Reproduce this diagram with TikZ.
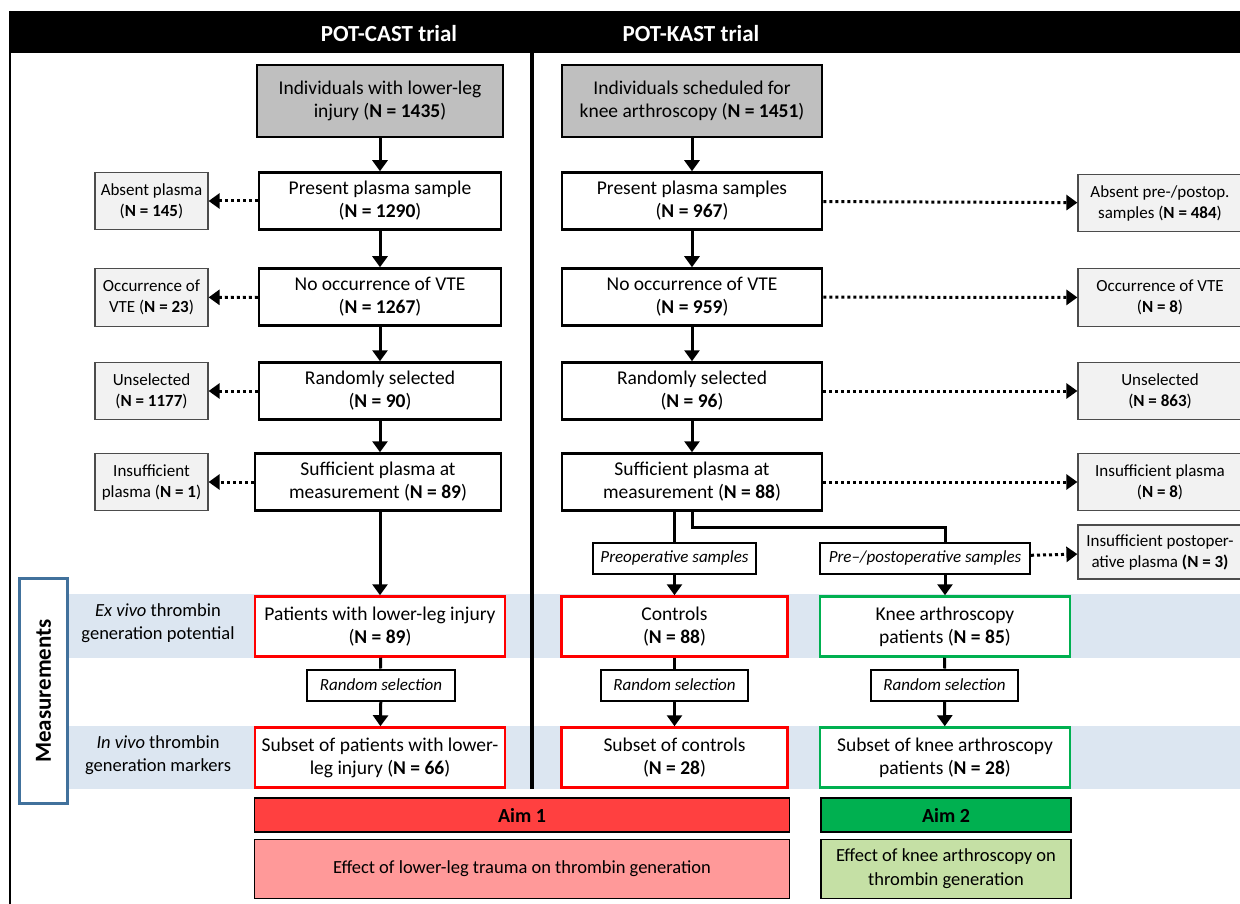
\documentclass[tikz,border=0pt]{standalone}
\usepackage{fontspec}
\setmainfont{Carlito}
\usetikzlibrary{arrows.meta}

\definecolor{boxgray}{HTML}{BFBFBF}
\definecolor{exgray}{HTML}{F2F2F2}
\definecolor{bandblue}{HTML}{DCE6F1}
\definecolor{measblue}{HTML}{41719C}
\definecolor{aimred}{HTML}{FF4040}
\definecolor{aimgreen}{HTML}{00B050}
\definecolor{effred}{HTML}{FF9999}
\definecolor{effgreen}{HTML}{C5E0A5}
\definecolor{boxred}{HTML}{FF0000}
\definecolor{boxgreen}{HTML}{00B050}

\newcommand{\nn}[1]{(\textbf{N = #1})}

\tikzset{
  base/.style={draw, align=center, inner sep=2pt, font=\fontsize{19.5}{23}\selectfont},
  mainbox/.style={base, line width=2.5pt, fill=white, minimum height=57pt},
  startbox/.style={mainbox, fill=boxgray, minimum height=72pt},
  exbox/.style={base, line width=1.2pt, draw=black!70, fill=exgray, minimum height=57pt, font=\fontsize{17}{21}\selectfont},
  redbox/.style={mainbox, draw=boxred, minimum height=60pt},
  greenbox/.style={mainbox, draw=boxgreen, minimum height=60pt},
  tagbox/.style={base, line width=2pt, fill=white, minimum height=31pt, font=\fontsize{17}{20}\selectfont\itshape},
  aimbox/.style={draw, line width=1.5pt, minimum height=34pt, font=\fontsize{20}{24}\selectfont\bfseries},
  effbox/.style={draw, line width=1.5pt, align=center, minimum height=59pt, font=\fontsize{18.5}{24}\selectfont},
  conn/.style={line width=3pt},
  arr/.style={conn, -{Triangle[length=11pt,width=15pt]}},
  dotarr/.style={line width=3pt, dash pattern=on 3pt off 3pt, -{Triangle[length=11pt,width=15pt]}},
}

\begin{document}
\begin{tikzpicture}[x=1pt, y=-1pt]

    \useasboundingbox (0,0) rectangle (1240,904);

    % Background bands and frame
    \fill[bandblue] (68,594) rectangle (1240,658);
    \fill[bandblue] (68,726) rectangle (1240,789);
    \fill[black] (9,11) rectangle (1240,53);
    \draw[line width=2pt] (10,11) -- (10,904);
    \draw[line width=3.5pt] (532,53) -- (532,789);

    \node[text=white, font=\fontsize{23}{27}\selectfont\bfseries] (castT) at (389,34) {POT-CAST trial};
    \node[text=white, font=\fontsize{23}{27}\selectfont\bfseries] (kastT) at (691,34) {POT-KAST trial};

    % POT-CAST column
    \node[startbox, minimum width=246pt] (topL) at (380,101) {Individuals with lower-leg\\injury \nn{1435}};
    \node[mainbox, minimum width=242pt] (presL) at (380,201) {Present plasma sample\\\nn{1290}};
    \node[mainbox, minimum width=242pt] (vteL) at (380,297) {No occurrence of VTE\\\nn{1267}};
    \node[mainbox, minimum width=242pt] (randL) at (380,391) {Randomly selected\\\nn{90}};
    \node[mainbox, minimum width=246pt] (suffL) at (378,482) {Sufficient plasma at\\measurement \nn{89}};

    \node[exbox, minimum width=113pt] (absL) at (151.5,201) {Absent plasma\\\nn{145}};
    \node[exbox, minimum width=113pt, minimum height=58pt] (occL) at (151.5,297.5) {Occurrence of\\VTE \nn{23}};
    \node[exbox, minimum width=113pt] (unsL) at (151.5,391) {Unselected\\\nn{1177}};
    \node[exbox, minimum width=113pt] (insL) at (151.5,482) {Insufficient\\plasma \nn{1}};

    % POT-KAST column
    \node[startbox, minimum width=260pt] (topR) at (692,101) {Individuals scheduled for\\knee arthroscopy \nn{1451}};
    \node[mainbox, minimum width=260pt] (presR) at (692,201) {Present plasma samples\\\nn{967}};
    \node[mainbox, minimum width=260pt] (vteR) at (692,297) {No occurrence of VTE\\\nn{959}};
    \node[mainbox, minimum width=260pt] (randR) at (692,391) {Randomly selected\\\nn{96}};
    \node[mainbox, minimum width=260pt] (suffR) at (692,482) {Sufficient plasma at\\measurement \nn{88}};

    \node[exbox, minimum width=164pt] (absR) at (1160,203) {Absent pre-/postop.\\samples \nn{484}};
    \node[exbox, minimum width=164pt, minimum height=58pt] (occR) at (1160,297.5) {Occurrence of VTE\\\nn{8}};
    \node[exbox, minimum width=164pt] (unsR) at (1160,391) {Unselected\\\nn{863}};
    \node[exbox, minimum width=164pt] (insR) at (1160,482) {Insufficient plasma\\\nn{8}};
    \node[exbox, minimum width=164pt, minimum height=54pt] (postR) at (1160,552) {Insufficient postoper-\\ative plasma \textbf{(N = 3)}};

    \node[tagbox, minimum width=163pt] (preop) at (674.5,558) {Preoperative samples};
    \node[tagbox, minimum width=210pt] (prepost) at (925,558) {Pre--/postoperative samples};

    % Measurements
    \node[draw=measblue, line width=2.5pt, fill=white, rotate=90, minimum width=225pt, minimum height=48pt,
          font=\fontsize{23}{27}\selectfont\bfseries] (meas) at (43.5,691) {Measurements};
    \node[align=center, font=\fontsize{18.5}{23}\selectfont] (exvivo) at (158,623) {\textit{Ex vivo} thrombin\\generation potential};
    \node[align=center, font=\fontsize{18.5}{23}\selectfont] (invivo) at (158,755) {\textit{In vivo} thrombin\\generation markers};

    \node[redbox, minimum width=250pt] (patL) at (380,626.5) {Patients with lower-leg injury\\\nn{89}};
    \node[redbox, minimum width=226pt] (ctrl) at (674.5,626.5) {Controls\\\nn{88}};
    \node[greenbox, minimum width=250pt] (knee) at (945,626.5) {Knee arthroscopy\\patients \nn{85}};

    \node[tagbox, minimum width=148pt] (selL) at (381,685) {Random selection};
    \node[tagbox, minimum width=147pt] (selM) at (674.5,685) {Random selection};
    \node[tagbox, minimum width=147pt] (selR) at (944.5,685) {Random selection};

    \node[redbox, minimum width=250pt] (subL) at (380,757.5) {Subset of patients with lower-\\leg injury \nn{66}};
    \node[redbox, minimum width=226pt] (subM) at (674.5,757.5) {Subset of controls\\\nn{28}};
    \node[greenbox, minimum width=250pt] (subR) at (945,757.5) {Subset of knee arthroscopy\\patients \nn{28}};

    % Aims
    \node[aimbox, fill=aimred, minimum width=535pt] (aim1) at (522,815) {Aim 1};
    \node[aimbox, fill=aimgreen, minimum width=250pt] (aim2) at (946,815) {Aim 2};
    \node[effbox, fill=effred, minimum width=535pt] (eff1) at (522,869) {Effect of lower-leg trauma on thrombin generation};
    \node[effbox, fill=effgreen, minimum width=250pt] (eff2) at (946,869) {Effect of knee arthroscopy on\\thrombin generation};

    % Connectors
    \foreach \a/\b in {topL/presL, presL/vteL, vteL/randL, topR/presR, presR/vteR, vteR/randR, randR/suffR}
        \draw[arr] (\a) -- (\b);
    \draw[arr] (randL.south) -- (randL.south |- suffL.north);
    \draw[arr] (suffL.south -| patL.north) -- (patL.north);

    \foreach \a/\b in {presL/absL, vteL/occL, randL/unsL, suffL/insL, presR/absR, vteR/occR, randR/unsR, suffR/insR, prepost/postR}
        \draw[dotarr] (\a) -- (\b);

    \coordinate (split) at (945,527);
    \draw[conn] (suffR.south -| preop.north) -- (preop.north);
    \draw[conn] (suffR.south) |- (split) -- (split |- prepost.north);
    \draw[arr] (preop) -- (ctrl);
    \draw[arr] (prepost.south -| knee.north) -- (knee.north);

    \draw[conn] (patL) -- (selL);
    \draw[conn] (ctrl) -- (selM);
    \draw[conn] (knee) -- (selR);
    \draw[arr] (selL) -- (subL);
    \draw[arr] (selM) -- (subM);
    \draw[arr] (selR) -- (subR);

\end{tikzpicture}
\end{document}
